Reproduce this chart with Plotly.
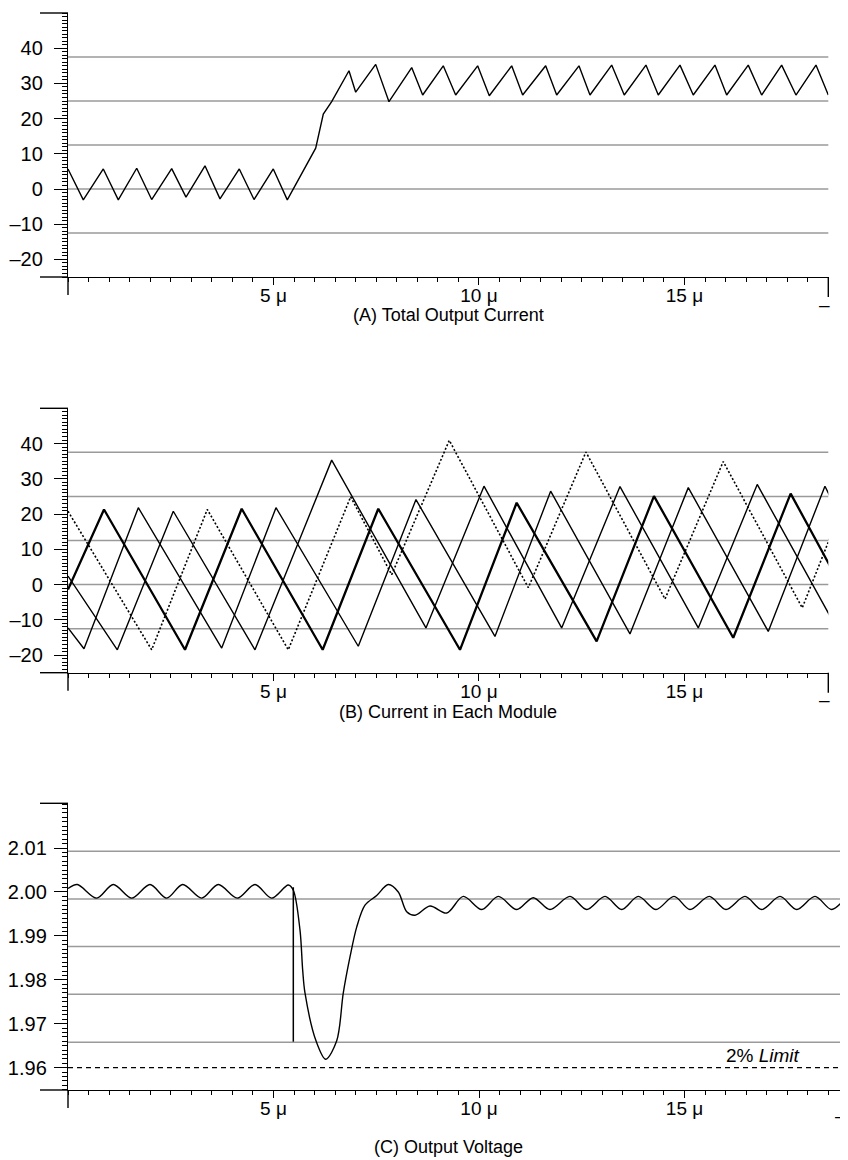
import plotly.graph_objects as go

# The page body has an 8 px default margin, so the figure is drawn 8 px smaller
# and all reference pixel positions are shifted by that offset.
PAGE_W, PAGE_H = 848, 1160
OFF = 8
W, H = PAGE_W - OFF, PAGE_H - OFF

# ---------------- data ----------------
# (A) Total output current vs time (microseconds)
a_time = [0, 0.372, 0.859, 1.224, 1.672, 2.036, 2.523, 2.871, 3.333, 3.698, 4.168, 4.526, 4.995, 5.336,
          6.027, 6.212, 6.416, 6.837, 7.0, 7.487, 7.810, 8.363, 8.630, 9.131, 9.433, 9.968, 10.251,
          10.796, 11.063, 11.623, 11.891, 12.433, 12.701,
          13.229, 13.535, 14.063, 14.363, 14.891, 15.214, 15.742, 16.027, 16.552, 16.878, 17.365,
          17.713, 18.200, 18.5]
a_current = [5.7, -3.1, 5.7, -3.1, 5.9, -3.0, 5.8, -2.3, 6.6, -2.8, 5.7, -3.0, 5.7, -3.1,
             11.6, 21.3, 24.8, 33.6, 27.5, 35.4, 24.8, 34.5, 26.7, 35.0, 26.7, 35.0, 26.5,
             35.0, 26.7, 35.0, 26.7, 35.0, 26.7,
             35.2, 26.7, 35.2, 26.7, 35.2, 26.7, 35.2, 26.7, 35.2, 26.7, 35.2,
             26.7, 35.2, 26.7]

# (B) Current in each module
mod1_time = [0, 0.389, 1.711, 3.740, 5.061, 7.063, 8.467, 10.389, 11.744, 13.674, 15.093, 17.039, 18.418, 18.62]
mod1_cur = [-12.3, -18.2, 21.8, -18.0, 21.8, -17.5, 24.1, -14.7, 26.5, -14.0, 27.5, -13.3, 27.9, 23.2]

mod2_time = [0, 1.200, 2.562, 4.550, 6.416, 8.710, 10.122, 12.012, 13.431, 15.336, 16.771, 18.62]
mod2_cur = [2.4, -18.5, 20.8, -18.5, 35.3, -12.3, 27.9, -12.3, 27.8, -12.3, 28.4, -10.6]

mod3_time = [0, 2.036, 3.389, 5.360, 6.878, 7.876, 9.277, 11.200, 12.603, 14.526, 15.944, 17.866, 18.62]
mod3_cur = [20.8, -18.5, 21.3, -18.5, 24.9, 2.8, 40.9, -0.9, 37.6, -4.1, 34.9, -6.6, 15.6]

mod4_time = [0, 0.876, 2.847, 4.226, 6.197, 7.550, 9.538, 10.917, 12.863, 14.258, 16.187, 17.584, 18.62]
mod4_cur = [-1.4, 21.3, -18.5, 21.5, -18.5, 21.5, -18.5, 23.2, -16.1, 25.1, -15.1, 25.8, 3.6]

# (C) Output voltage
c_time = [0.0, 0.226, 0.698, 1.102, 1.550, 1.995, 2.401, 2.791, 3.253, 3.657, 4.119, 4.550, 4.956,
          5.360, 5.482, 5.645, 5.710, 5.766, 6.034, 6.270, 6.538, 6.698, 6.861, 7.024, 7.226,
          7.511, 7.793, 8.036, 8.241, 8.443, 8.808, 9.214, 9.618, 10.066, 10.470, 10.917, 11.321,
          11.727, 12.214, 12.620, 13.066, 13.472, 13.876, 14.307, 14.745, 15.134, 15.603, 16.010,
          16.472, 16.878, 17.324, 17.730, 18.175, 18.582, 18.946]
c_volt = [2.0008, 2.0017, 1.9986, 2.0017, 1.9986, 2.0017, 1.9986, 2.0017, 1.9986, 2.0017, 1.9986,
          2.0017, 1.9986, 2.0016, 2.0004, 1.9913, 1.9822, 1.9770, 1.9661, 1.9619, 1.9661, 1.9770,
          1.9852, 1.9920, 1.9970, 1.9992, 2.0017, 2.0000, 1.9955, 1.9947, 1.9968, 1.9952, 1.9990,
          1.9960, 1.9990, 1.9960, 1.9987, 1.9960, 1.9990, 1.9960, 1.9990, 1.9960, 1.9990, 1.9960,
          1.9990, 1.9960, 1.9990, 1.9960, 1.9990, 1.9960, 1.9990, 1.9960, 1.9990, 1.9960, 1.9990]
marker_time = [5.482, 5.482]
marker_volt = [2.0011, 1.9659]
limit_time = [0, 19.0]
limit_volt = [1.96, 1.96]

# axis ticks / grid values
cur_ticks = [-20, -10, 0, 10, 20, 30, 40]
cur_ticktext = ["\u201320", "\u201310", "0", "10", "20", "30", "40"]
cur_mid_ticks = [-25, -15, -5, 5, 15, 25, 35, 45]
cur_grid = [-12.5, 0, 12.5, 25, 37.5]
volt_ticks = [1.96, 1.97, 1.98, 1.99, 2.00, 2.01]
volt_ticktext = ["1.96", "1.97", "1.98", "1.99", "2.00", "2.01"]
volt_mid_ticks = [1.955, 1.965, 1.975, 1.985, 1.995, 2.005, 2.015]
volt_grid = [1.9658, 1.9767, 1.9876, 1.9984, 2.0093]
time_ticks = list(range(0, 20))
time_ticktext = ["5 \u03bc" if t == 5 else "10 \u03bc" if t == 10 else "15 \u03bc" if t == 15 else "" for t in time_ticks]
time_minor = [i * 0.5 for i in range(0, 40)]

captions = ["(A) Total Output Current", "(B) Current in Each Module", "(C) Output Voltage"]

# ---------------- layout helpers ----------------
FONT = "Liberation Sans, Arial, Helvetica, sans-serif"
BLACK = "#000000"
GRID = "#9a9a9a"


def px(x):
    return (x - OFF) / W


def py(y):
    return 1 - (y - OFF) / H


# panel pixel boxes (page coordinates): left, right, top, bottom
panels = [
    dict(l=68, r=828.3, t=13, b=277, xr=[0, 18.5], yr=[-25, 50]),
    dict(l=68, r=828.3, t=408.3, b=672.7, xr=[0, 18.5], yr=[-25, 50]),
    dict(l=68, r=848, t=803.3, b=1090, xr=[0, 18.978], yr=[1.9549, 2.0202]),
]

fig = go.Figure()

fig.add_trace(go.Scatter(x=a_time, y=a_current, mode="lines", line=dict(color=BLACK, width=1.4), xaxis="x", yaxis="y"))

fig.add_trace(go.Scatter(x=mod1_time, y=mod1_cur, mode="lines", line=dict(color=BLACK, width=1.4), xaxis="x2", yaxis="y2"))
fig.add_trace(go.Scatter(x=mod2_time, y=mod2_cur, mode="lines", line=dict(color=BLACK, width=1.4), xaxis="x2", yaxis="y2"))
fig.add_trace(go.Scatter(x=mod3_time, y=mod3_cur, mode="lines", line=dict(color=BLACK, width=1.6, dash="2px,2px"), xaxis="x2", yaxis="y2"))
fig.add_trace(go.Scatter(x=mod4_time, y=mod4_cur, mode="lines", line=dict(color=BLACK, width=2.3), xaxis="x2", yaxis="y2"))

fig.add_trace(go.Scatter(x=c_time, y=c_volt, mode="lines", line=dict(color=BLACK, width=1.4, shape="spline", smoothing=0.9), xaxis="x3", yaxis="y3"))
fig.add_trace(go.Scatter(x=marker_time, y=marker_volt, mode="lines", line=dict(color=BLACK, width=1.5), xaxis="x3", yaxis="y3"))
fig.add_trace(go.Scatter(x=limit_time, y=limit_volt, mode="lines", line=dict(color=BLACK, width=1.4, dash="5px,4px"), xaxis="x3", yaxis="y3"))

ytickfont = dict(family=FONT, size=20, color=BLACK)
xtickfont = dict(family=FONT, size=19, color=BLACK)
layout = dict(
    width=W, height=H, margin=dict(l=0, r=0, t=0, b=0),
    paper_bgcolor="white", plot_bgcolor="white", showlegend=False,
    font=dict(family=FONT, color=BLACK),
)

shapes = []
annotations = []
for i, p in enumerate(panels):
    sfx = "" if i == 0 else str(i + 1)
    xname, yname = "xaxis" + sfx, "yaxis" + sfx
    xref, yref = "x" + sfx, "y" + sfx
    is_v = (i == 2)
    layout[xname] = dict(
        domain=[px(p["l"]), min(1.0, px(p["r"]))], range=p["xr"], anchor=yref,
        showline=True, linecolor=BLACK, linewidth=1.4, showgrid=False, zeroline=False,
        ticks="outside", ticklen=7, tickwidth=1.3, tickcolor=BLACK,
        tickmode="array", tickvals=time_ticks, ticktext=time_ticktext, tickfont=xtickfont,
        ticklabelstandoff=-6,
        minor=dict(ticks="outside", ticklen=4, tickwidth=1.2, tickcolor=BLACK, tickmode="array", tickvals=time_minor, showgrid=False),
        fixedrange=True,
    )
    layout[yname] = dict(
        domain=[py(p["b"]), py(p["t"])], range=p["yr"], anchor=xref,
        showline=True, linecolor=BLACK, linewidth=1.4, showgrid=False, zeroline=False,
        ticks="outside", ticklen=13, tickwidth=1.3, tickcolor=BLACK,
        tickmode="array",
        tickvals=volt_ticks if is_v else cur_ticks,
        ticktext=volt_ticktext if is_v else cur_ticktext,
        tickfont=ytickfont, ticklabelstandoff=3 if is_v else 7,
        minor=dict(ticks="outside", ticklen=5, tickwidth=1.0, tickcolor=BLACK,
                   dtick=0.001 if is_v else 1, tick0=0, showgrid=False),
        fixedrange=True,
    )
    # overlay axis for the medium-length ticks
    oname = "yaxis" + str(i + 4)
    layout[oname] = dict(
        overlaying=yref, anchor=xref, side="left", range=p["yr"],
        showline=False, showgrid=False, zeroline=False, showticklabels=False,
        ticks="outside", ticklen=9, tickwidth=1.2, tickcolor=BLACK,
        tickmode="array", tickvals=volt_mid_ticks if is_v else cur_mid_ticks,
        fixedrange=True,
    )
    # gridlines
    for g in (volt_grid if is_v else cur_grid):
        shapes.append(dict(type="line", xref=xref + " domain", yref=yref, x0=0, x1=1, y0=g, y1=g,
                           line=dict(color=GRID, width=1.5), layer="below"))
    # axis frame extensions
    lw = dict(color=BLACK, width=1.4)
    shapes.append(dict(type="line", xref="paper", yref="paper", x0=px(40), x1=px(p["l"]), y0=py(p["b"]), y1=py(p["b"]), line=lw))
    shapes.append(dict(type="line", xref="paper", yref="paper", x0=px(40), x1=px(p["l"]), y0=py(p["t"]), y1=py(p["t"]), line=lw))
    shapes.append(dict(type="line", xref="paper", yref="paper", x0=px(p["l"]), x1=px(p["l"]), y0=py(p["b"]), y1=py(p["b"] + 18), line=lw))
    if not is_v:
        shapes.append(dict(type="line", xref="paper", yref="paper", x0=px(p["r"]), x1=px(p["r"]), y0=py(p["b"]), y1=py(p["b"] + 20), line=lw))
        annotations.append(dict(text="\u2013", xref="paper", yref="paper", x=px(p["r"] - 4), y=py(p["b"] + 27),
                                showarrow=False, xanchor="center", yanchor="middle", font=dict(family=FONT, size=19, color=BLACK)))
    else:
        annotations.append(dict(text="\u2013", xref="paper", yref="paper", x=px(848), y=py(p["b"] + 25),
                                showarrow=False, xanchor="right", yanchor="middle", font=dict(family=FONT, size=19, color=BLACK)))

caption_y = [315, 712, 1147]
for c, yy in zip(captions, caption_y):
    annotations.append(dict(text=c, xref="paper", yref="paper", x=px(448), y=py(yy), showarrow=False,
                            xanchor="center", yanchor="middle", font=dict(family=FONT, size=18, color=BLACK)))

annotations.append(dict(text="2% <i>Limit</i>", xref="x3", yref="y3", x=15.95, y=1.9627, showarrow=False,
                        xanchor="left", yanchor="middle", font=dict(family=FONT, size=19, color=BLACK)))

layout["shapes"] = shapes
layout["annotations"] = annotations
fig.update_layout(**layout)
fig.write_html("out.html")
